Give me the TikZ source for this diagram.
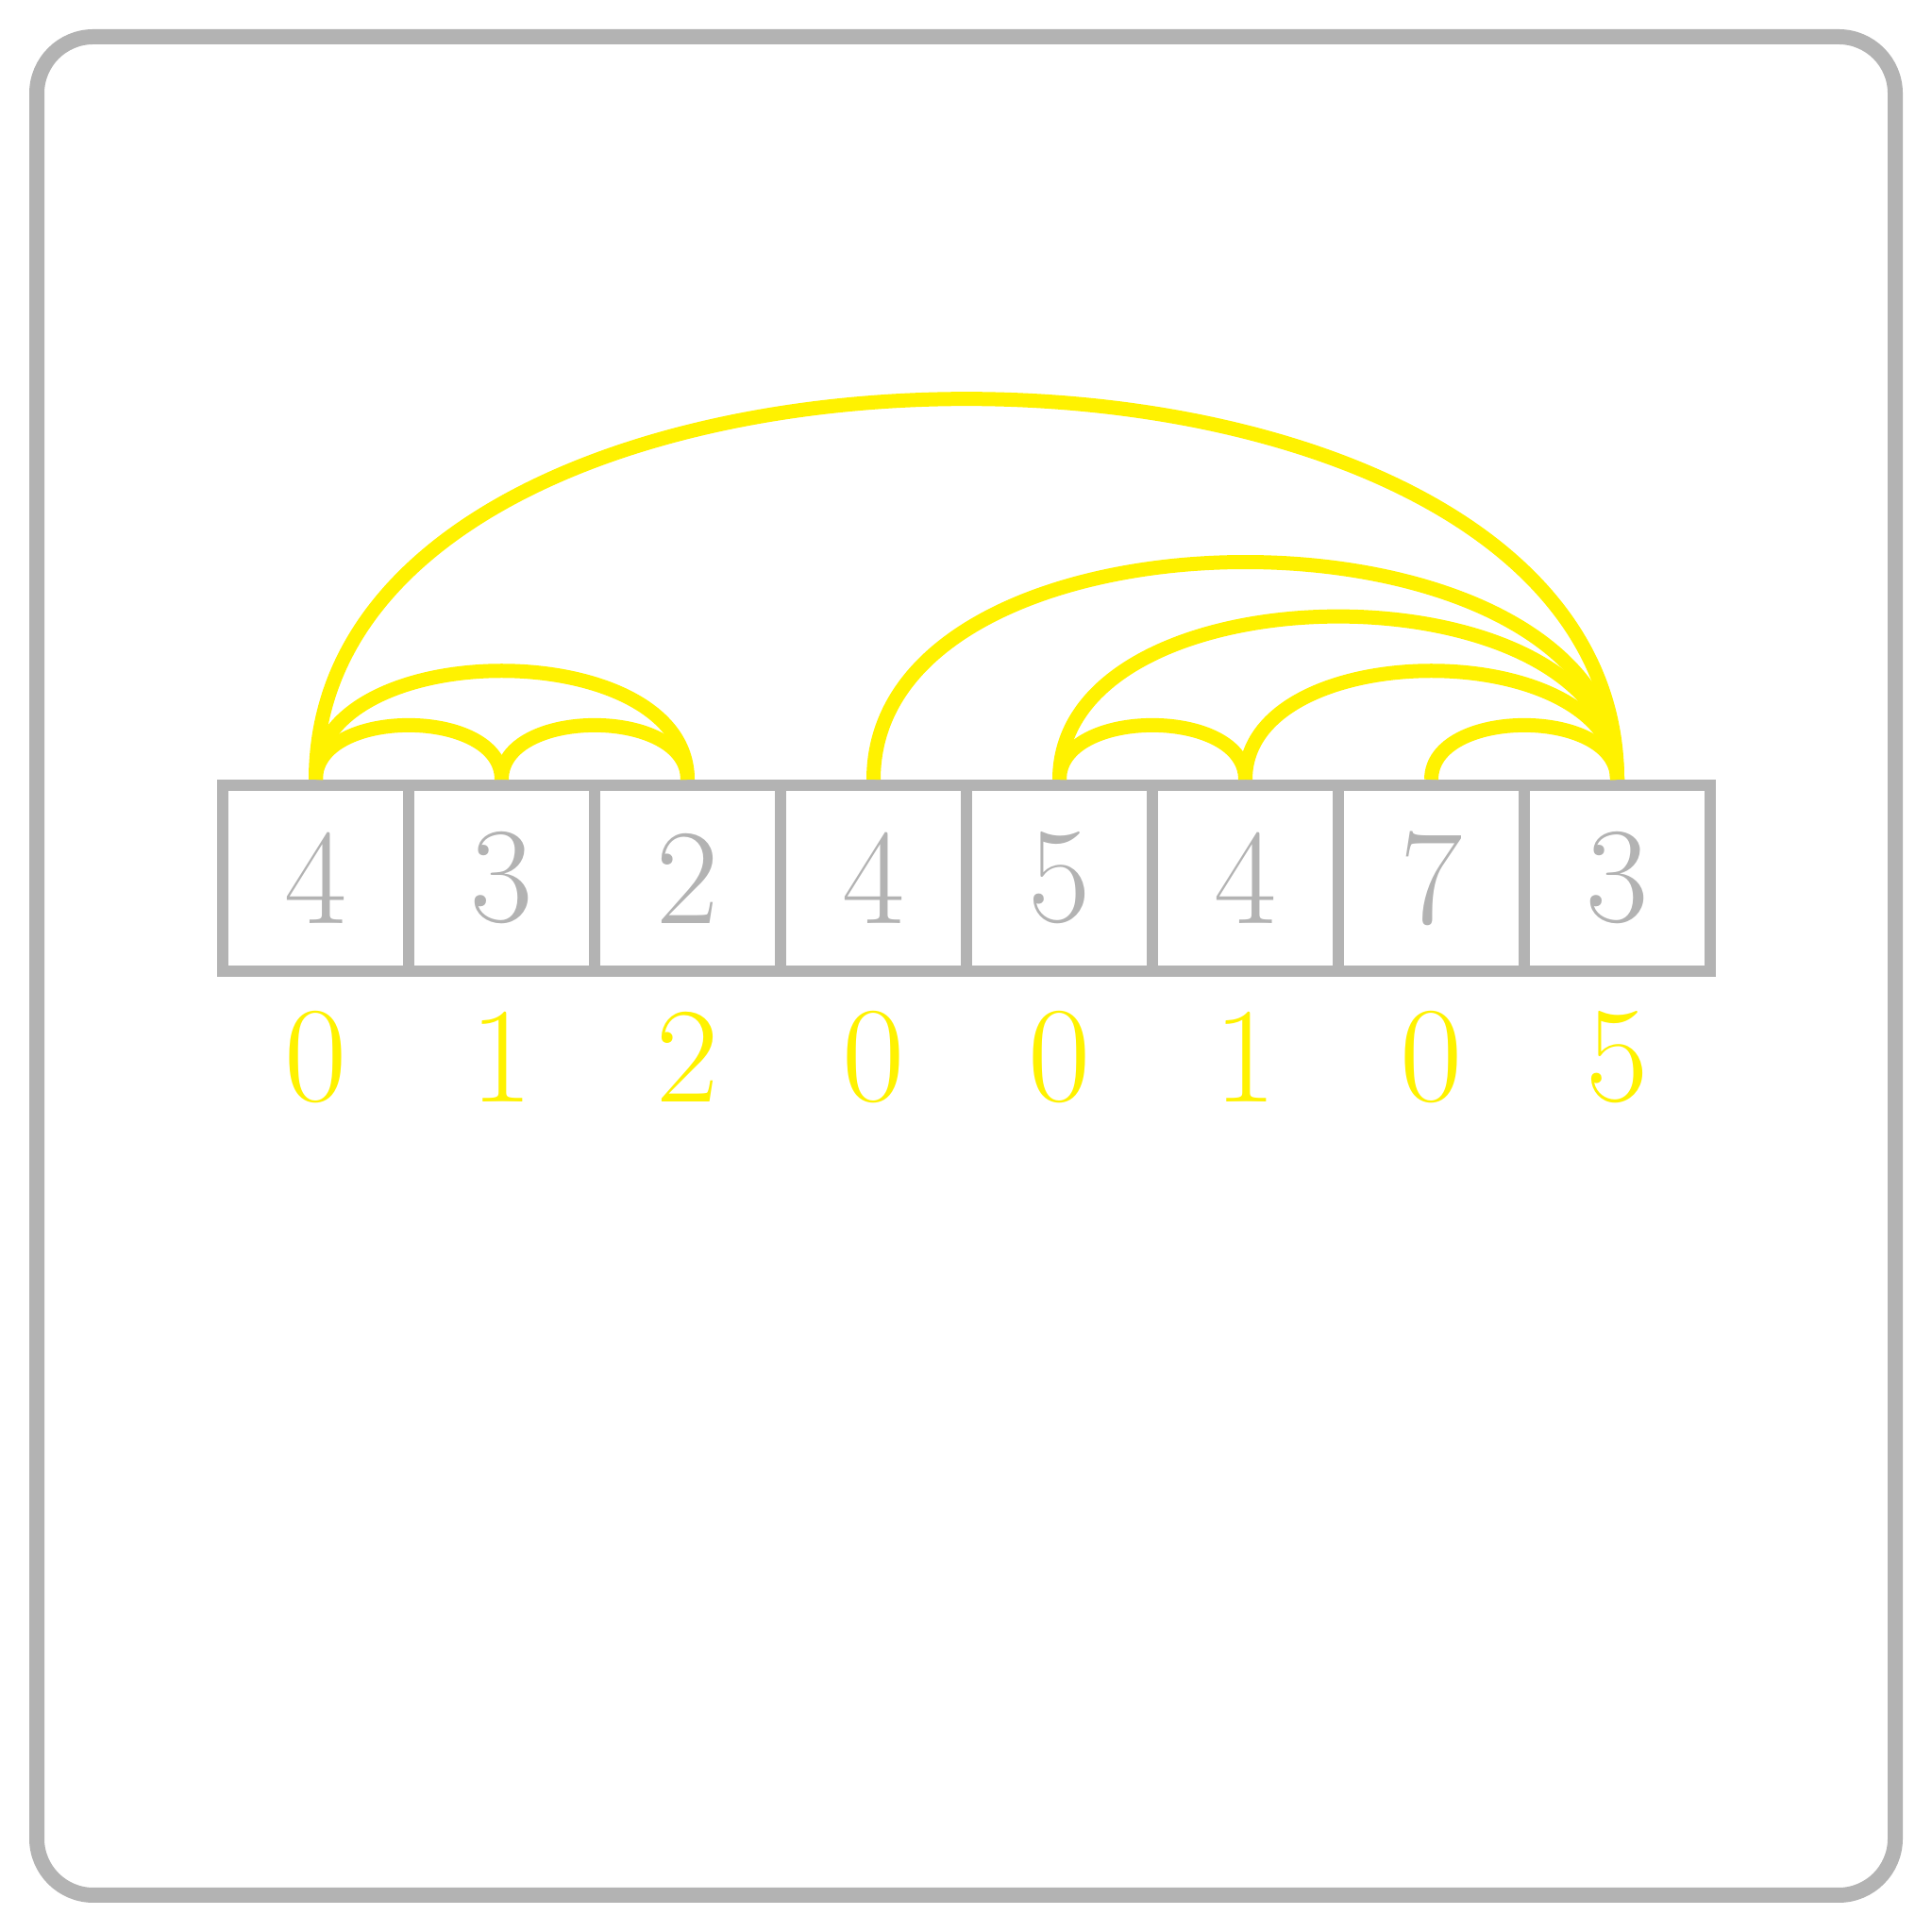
\documentclass[tikz,border=0pt]{standalone}
\usetikzlibrary{positioning}
\definecolor{boxgray}{RGB}{179,179,179}
\definecolor{arcyellow}{RGB}{255,242,0}
\tikzset{
  cell/.style={draw=boxgray, line width=0.12cm, minimum size=1.97cm, inner sep=0pt, text=boxgray, font=\fontsize{41}{49}\selectfont},
  idx/.style={text=arcyellow, inner sep=0pt, font=\fontsize{41}{49}\selectfont},
  arc/.style={draw=arcyellow, line width=0.15cm},
  frame/.style={draw=boxgray, line width=0.16cm, rounded corners=0.6cm}
}
\begin{document}
\begin{tikzpicture}
\useasboundingbox (0,0) rectangle (20.47,20.47);
\draw[frame] (0.39,0.39) rectangle (20.08,20.08);
\foreach \v [count=\i from 0] in {4,3,2,4,5,4,7,3} {
  \node[cell] (c\i) at ({3.345+1.97*\i},11.165) {\v};
}
\foreach \l [count=\i from 0] in {0,1,2,0,0,1,0,5} {
  \node[idx] (l\i) at ({3.345+1.97*\i},9.27) {\l};
}
\foreach \a/\b in {0/1,1/2,0/2,0/7,3/7,4/7,5/7,4/5,6/7} {
  \draw[arc] (c\a.north) to[out=90,in=90] (c\b.north);
}
\end{tikzpicture}
\end{document}
